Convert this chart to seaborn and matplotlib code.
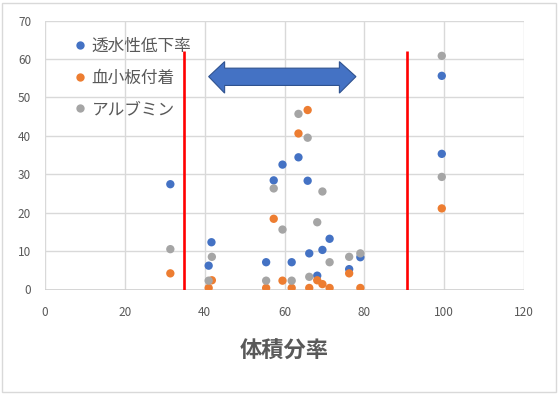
import matplotlib
matplotlib.use("Agg")
import matplotlib.pyplot as plt
import seaborn as sns
import pandas as pd
from matplotlib.patches import Polygon, Rectangle

# ---- data ----
series_names = ["透水性低下率", "血小板付着", "アルブミン"]
x_permeability = [31.4, 41.0, 41.7, 55.4, 57.3, 59.5, 61.8, 63.5, 65.8, 66.2, 68.2, 69.5, 71.3, 76.2, 79.0, 99.4, 99.4]
y_permeability = [27.4, 6.2, 12.3, 7.1, 28.4, 32.5, 7.1, 34.4, 28.3, 9.4, 3.6, 10.3, 13.2, 5.3, 8.4, 55.6, 35.3]
x_platelet = [31.4, 41.0, 41.8, 55.4, 57.3, 59.5, 61.8, 63.5, 65.8, 66.2, 68.2, 69.5, 71.3, 76.2, 79.0, 99.4]
y_platelet = [4.2, 0.4, 2.4, 0.4, 18.4, 2.3, 0.4, 40.6, 46.7, 0.4, 2.4, 1.4, 0.4, 4.2, 0.4, 21.1]
x_albumin = [31.4, 41.0, 41.8, 55.4, 57.3, 59.5, 61.8, 63.5, 65.8, 66.2, 68.2, 69.5, 71.3, 76.2, 79.0, 99.4, 99.4]
y_albumin = [10.5, 2.3, 8.5, 2.3, 26.3, 15.6, 2.3, 45.7, 39.5, 3.3, 17.5, 25.5, 7.1, 8.5, 9.4, 60.8, 29.3]
red_line_x = [34.75, 90.8]
red_line_top = 62.0
x_ticks = [0, 20, 40, 60, 80, 100, 120]
y_ticks = [0, 10, 20, 30, 40, 50, 60, 70]
x_label = "体積分率"

colors = ["#4472C4", "#ED7D31", "#A5A5A5"]

df = pd.concat([
    pd.DataFrame({"x": x_permeability, "y": y_permeability, "series": series_names[0]}),
    pd.DataFrame({"x": x_platelet, "y": y_platelet, "series": series_names[1]}),
    pd.DataFrame({"x": x_albumin, "y": y_albumin, "series": series_names[2]}),
], ignore_index=True)

sns.set_theme(style="white")
plt.rcParams["font.family"] = ["Noto Sans CJK JP", "DejaVu Sans"]

fig = plt.figure(figsize=(5.6, 3.94), dpi=100)
ax = fig.add_axes([45 / 560, 1 - 289.5 / 394, (524 - 45) / 560, (289.5 - 20.5) / 394])

sns.scatterplot(data=df, x="x", y="y", hue="series", hue_order=series_names,
                palette=colors, s=36, linewidth=0, ax=ax, zorder=3)

# vertical red lines
for xv in red_line_x:
    ax.plot([xv, xv], [0, red_line_top], color="#FF0000", lw=1.9, zorder=4, solid_capstyle="butt")

# double-headed block arrow (annotation shape)
arrow = Polygon([(41.0, 55.4), (45.0, 59.3), (45.0, 57.6), (73.75, 57.6), (73.75, 59.3),
                 (77.9, 55.4), (73.75, 51.1), (73.75, 53.1), (45.0, 53.1), (45.0, 51.1)],
                closed=True, facecolor="#4472C4", edgecolor="#2F528F", lw=0.8, zorder=5)
ax.add_patch(arrow)

ax.set_xlim(0, 120)
ax.set_ylim(0, 70)
ax.set_xticks(x_ticks)
ax.set_yticks(y_ticks)
ax.grid(True, color="#D9D9D9", lw=1.0)
ax.set_axisbelow(True)
for sp in ax.spines.values():
    sp.set_visible(False)
ax.axhline(0, color="#D0D0D0", lw=1.2, zorder=1)
ax.tick_params(axis="both", length=0, labelsize=8.5, labelcolor="#595959")
ax.tick_params(axis="y", pad=10)
ax.tick_params(axis="x", pad=12)
ax.set_ylabel("")
ax.set_xlabel(x_label, fontsize=16, fontweight="bold", color="#595959", labelpad=15)

leg = ax.legend(loc="upper left", bbox_to_anchor=(0.045, 0.96), frameon=False,
                fontsize=12, labelspacing=0.88, handlelength=0.8, handletextpad=0.3,
                markerscale=1.0, borderaxespad=0)
for t in leg.get_texts():
    t.set_color("#595959")

fig.patches.append(Rectangle((2 / 560, 2 / 394), 554 / 560, 389 / 394, transform=fig.transFigure,
                             fill=False, edgecolor="#D9D9D9", lw=1.0))

fig.savefig("out.png", dpi=100)
